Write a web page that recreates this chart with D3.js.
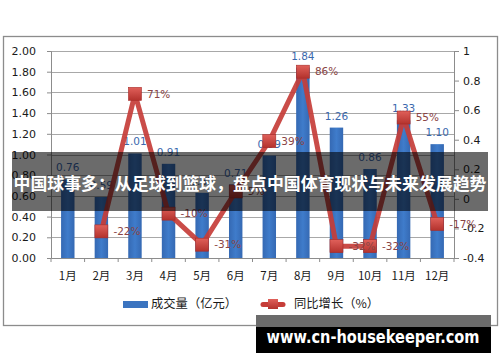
<!doctype html>
<html>
<head>
<meta charset="utf-8">
<script src="https://d3js.org/d3.v7.min.js"></script>
<style>
  body { margin: 0; background: #fff; }
  svg text { font-family: "DejaVu Sans", Verdana, sans-serif; }
  .cjk { font-family: "Noto Sans CJK SC", "Noto Sans", sans-serif; }
</style>
</head>
<body>
<svg id="chart"></svg>
<script>
// data
var months = ["1月","2月","3月","4月","5月","6月","7月","8月","9月","10月","11月","12月"];
var volume = [0.76, 0.59, 1.01, 0.91, 0.63, 0.71, 0.99, 1.84, 1.26, 0.86, 1.33, 1.10];
var growth = [null, -0.22, 0.71, -0.10, -0.31, 0.05, 0.39, 0.86, -0.32, -0.32, 0.55, -0.17];
var leftTicks = [0, 0.2, 0.4, 0.6, 0.8, 1.0, 1.2, 1.4, 1.6, 1.8, 2.0];
var rightTicks = [-0.4, -0.2, 0, 0.2, 0.4, 0.6, 0.8, 1];
var legendNames = ["成交量（亿元）", "同比增长（%）"];
var title = "中国球事多：从足球到篮球，盘点中国体育现状与未来发展趋势";
var watermark = "www.cn-housekeeper.com";

var width = 500, height = 362;
var svg = d3.select("#chart").attr("width", width).attr("height", height);

// plot box (note: "top" is reserved on window, so use other names)
var pLeft = 51, pRight = 454, pTop = 51, pBottom = 258;

var x = d3.scaleBand().domain(months).range([pLeft, pRight]).paddingInner(0.6).paddingOuter(0.3);
var xb = d3.scaleBand().domain(months).range([pLeft, pRight]); // full bands for ticks / labels
var y = d3.scaleLinear().domain([0, 2]).range([pBottom, pTop]);
var y2 = d3.scaleLinear().domain([-0.4, 1]).range([pBottom, pTop]);

var defs = svg.append("defs");
var mg = defs.append("linearGradient").attr("id", "mk").attr("x1", 0).attr("y1", 0).attr("x2", 0).attr("y2", 1);
mg.append("stop").attr("offset", "0%").attr("stop-color", "#e0605a");
mg.append("stop").attr("offset", "100%").attr("stop-color", "#b3322d");
var bg = defs.append("linearGradient").attr("id", "bar").attr("x1", 0).attr("y1", 0).attr("x2", 1).attr("y2", 0);
bg.append("stop").attr("offset", "0%").attr("stop-color", "#3569b3");
bg.append("stop").attr("offset", "50%").attr("stop-color", "#3f7ccb");
bg.append("stop").attr("offset", "100%").attr("stop-color", "#3569b3");

// outer frame
svg.append("rect").attr("x", 3.5).attr("y", 36.5).attr("width", 494).attr("height", 289)
  .attr("fill", "#fff").attr("stroke", "#8c8c8c").attr("stroke-width", 1.3);

// gridlines
svg.append("g").selectAll("line").data(leftTicks.filter(function(d){ return d > 0; }))
  .enter().append("line")
  .attr("x1", pLeft).attr("x2", pRight)
  .attr("y1", function(d){ return Math.round(y(d)) + 0.5; })
  .attr("y2", function(d){ return Math.round(y(d)) + 0.5; })
  .attr("stroke", "#a8a8a8").attr("stroke-width", 1);

// axes
var axL = svg.append("g").attr("transform", "translate(" + pLeft + ",0)")
  .call(d3.axisLeft(y).tickValues(leftTicks).tickFormat(d3.format(".2f")).tickSize(4).tickPadding(11));
var axR = svg.append("g").attr("transform", "translate(" + pRight + ",0)")
  .call(d3.axisRight(y2).tickValues(rightTicks).tickFormat(function(d){ return String(+d.toFixed(1)); }).tickSize(5).tickPadding(4));
var axB = svg.append("g").attr("transform", "translate(0," + pBottom + ")")
  .call(d3.axisBottom(xb).tickSize(0).tickPadding(14));
[axL, axR, axB].forEach(function(a){
  a.select(".domain").attr("stroke", "#8c8c8c");
  a.selectAll(".tick line").attr("stroke", "#8c8c8c");
  a.selectAll("text").attr("fill", "#1a1a1a").style("font-size", "11px");
});
axB.selectAll("text").attr("class", "cjk").style("font-size", "11.5px");
// category boundary ticks
svg.append("g").selectAll("line").data(months.concat(["end"]))
  .enter().append("line")
  .attr("x1", function(d, i){ return pLeft + i * xb.bandwidth(); })
  .attr("x2", function(d, i){ return pLeft + i * xb.bandwidth(); })
  .attr("y1", pBottom).attr("y2", pBottom + 4)
  .attr("stroke", "#8c8c8c");

// bars
svg.append("g").selectAll("rect").data(volume).enter().append("rect")
  .attr("x", function(d, i){ return x(months[i]); })
  .attr("y", function(d){ return y(d); })
  .attr("width", x.bandwidth())
  .attr("height", function(d){ return pBottom - y(d); })
  .attr("fill", "url(#bar)");

svg.append("g").selectAll("text").data(volume).enter().append("text")
  .attr("x", function(d, i){ return xb(months[i]) + xb.bandwidth() / 2; })
  .attr("y", function(d){ return y(d) - 8; })
  .attr("text-anchor", "middle")
  .attr("fill", "#3a68ad")
  .style("font-size", "10.5px")
  .text(function(d){ return d3.format(".2f")(d); });

// growth line
var pts = growth.map(function(v, i){ return {m: months[i], v: v}; }).filter(function(d){ return d.v !== null; });
var line = d3.line()
  .x(function(d){ return xb(d.m) + xb.bandwidth() / 2; })
  .y(function(d){ return y2(d.v); });
svg.append("path").datum(pts).attr("d", line)
  .attr("fill", "none").attr("stroke", "#c63d38").attr("stroke-opacity", 0.92)
  .attr("stroke-width", 5).attr("stroke-linejoin", "round");

svg.append("g").selectAll("rect").data(pts).enter().append("rect")
  .attr("x", function(d){ return xb(d.m) + xb.bandwidth() / 2 - 6.5; })
  .attr("y", function(d){ return y2(d.v) - 6.5; })
  .attr("width", 13).attr("height", 13)
  .attr("fill", "url(#mk)").attr("stroke", "#a82c28").attr("stroke-width", 0.6);

svg.append("g").selectAll("text").data(pts).enter().append("text")
  .attr("x", function(d){ return xb(d.m) + xb.bandwidth() / 2 + 12; })
  .attr("y", function(d){ return y2(d.v); })
  .attr("dy", "0.36em")
  .attr("fill", "#8a4545")
  .style("font-size", "10.5px")
  .text(function(d){ return Math.round(d.v * 100) + "%"; });

// legend
var lg = svg.append("g");
lg.append("rect").attr("x", 123).attr("y", 301).attr("width", 25).attr("height", 7).attr("fill", "#3b74c0");
lg.append("text").attr("class", "cjk").attr("x", 151).attr("y", 304).attr("dy", "0.36em")
  .attr("fill", "#1a1a1a").style("font-size", "12.3px").text(legendNames[0]);
lg.append("line").attr("x1", 263).attr("x2", 283).attr("y1", 304.5).attr("y2", 304.5)
  .attr("stroke", "#c63d38").attr("stroke-width", 5).attr("stroke-linecap", "round");
lg.append("rect").attr("x", 268).attr("y", 299).attr("width", 10).attr("height", 10)
  .attr("fill", "url(#mk)");
lg.append("text").attr("class", "cjk").attr("x", 294).attr("y", 304).attr("dy", "0.36em")
  .attr("fill", "#1a1a1a").style("font-size", "12.3px").text(legendNames[1]);

// title banner over the chart
svg.append("rect").attr("x", 12).attr("y", 152).attr("width", 476).attr("height", 59)
  .attr("fill", "#000").attr("fill-opacity", 0.58);
svg.append("text").attr("class", "cjk").attr("x", 250).attr("y", 184).attr("dy", "0.36em")
  .attr("text-anchor", "middle").attr("fill", "#fff")
  .style("font-size", "16.9px").style("font-weight", "bold").text(title);

// watermark
svg.append("rect").attr("x", 256).attr("y", 315).attr("width", 235).attr("height", 12).attr("fill", "#6b6b6b");
svg.append("rect").attr("x", 256).attr("y", 327).attr("width", 235).attr("height", 26).attr("fill", "#000");
svg.append("text").attr("x", 373).attr("y", 337).attr("dy", "0.36em")
  .attr("text-anchor", "middle").attr("fill", "#fff")
  .style("font-size", "17px").style("font-weight", "bold")
  .attr("textLength", 213).attr("lengthAdjust", "spacingAndGlyphs")
  .text(watermark);
</script>
</body>
</html>
